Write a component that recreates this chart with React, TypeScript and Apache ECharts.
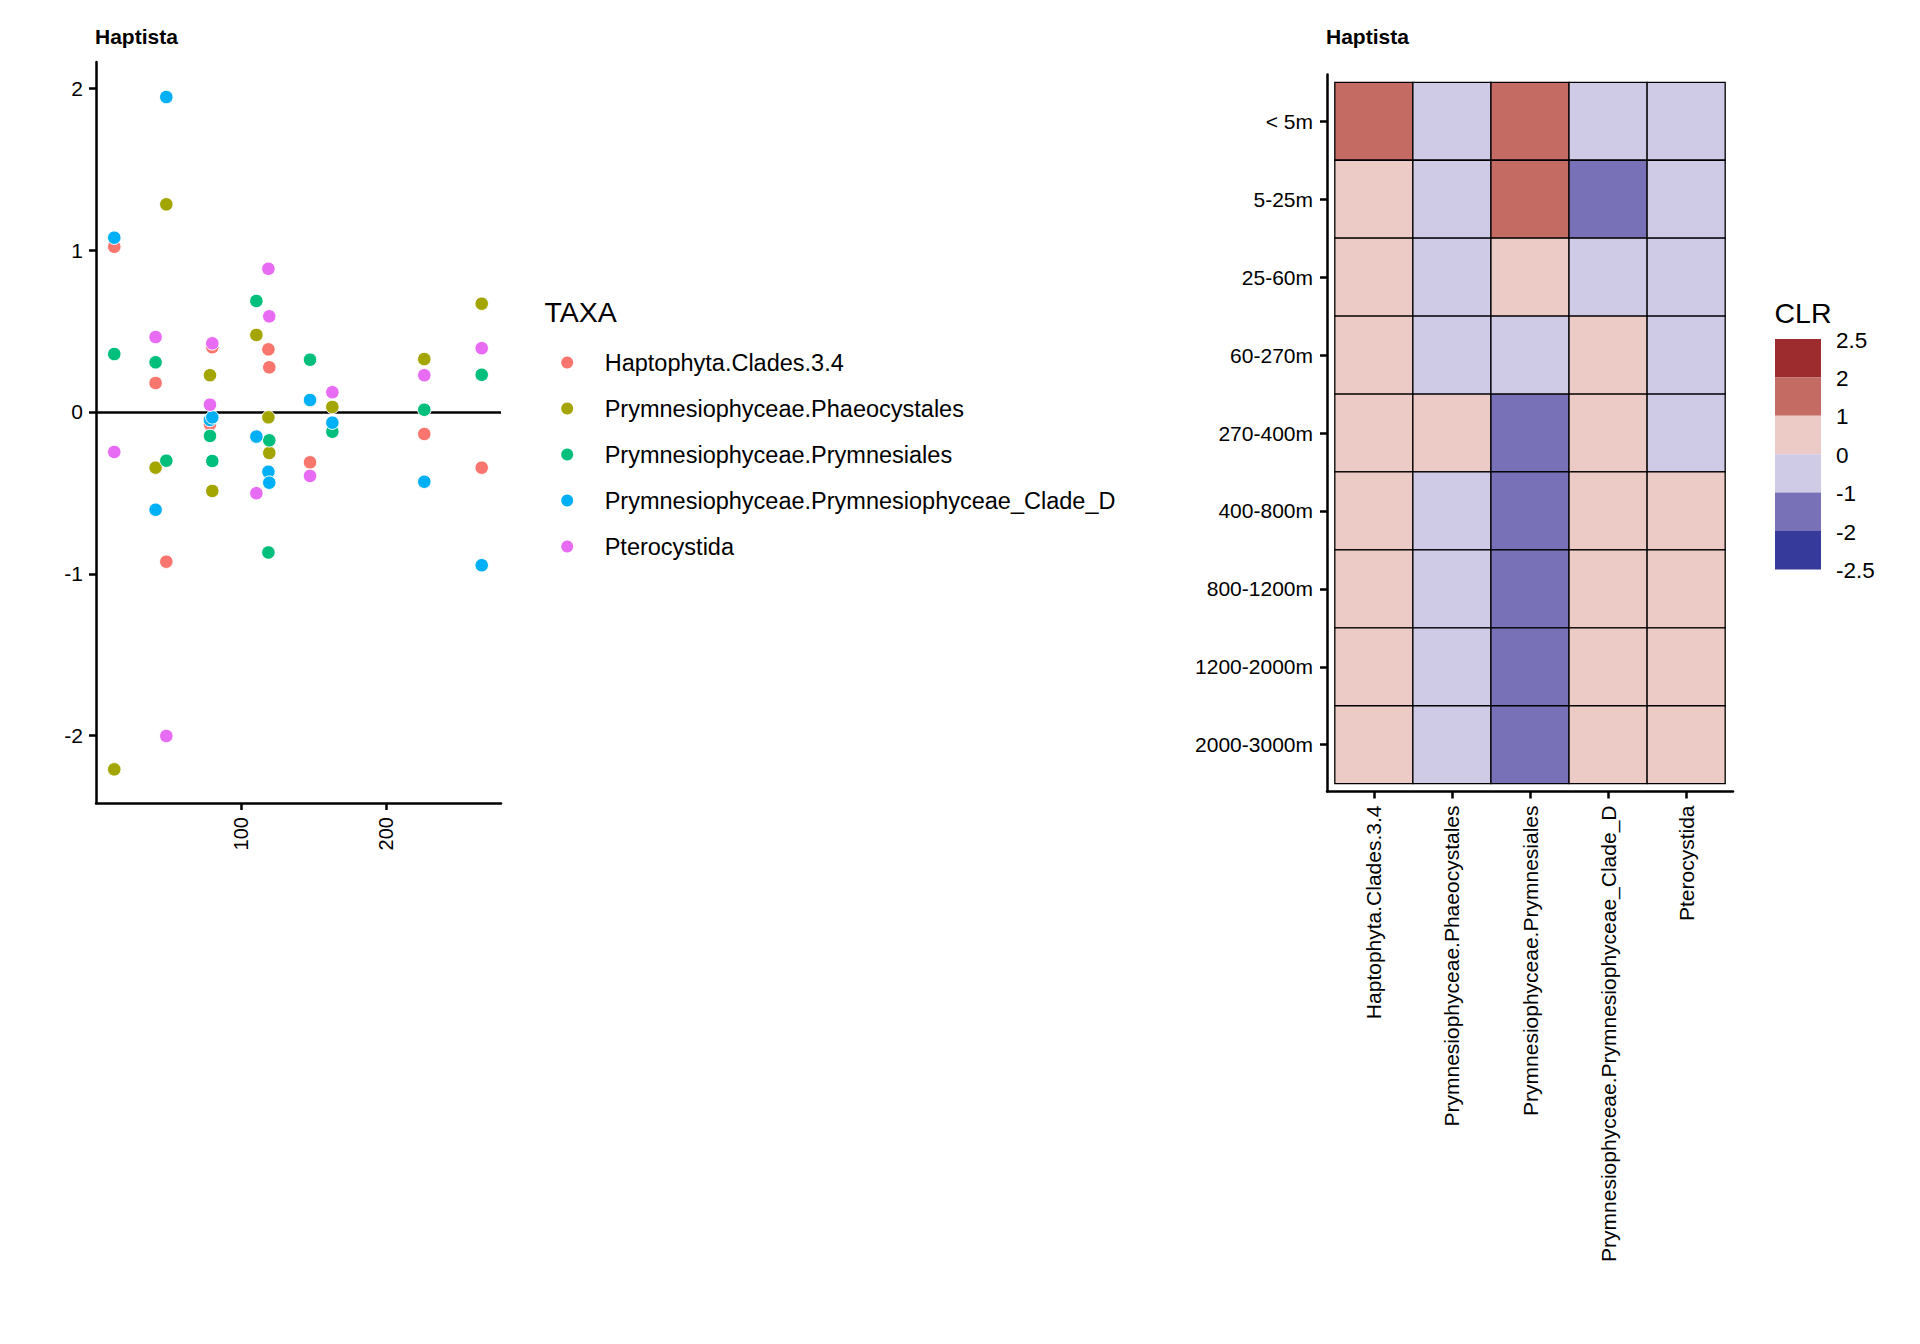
import React, { useEffect, useRef } from 'react';
import * as echarts from 'echarts';

const FONT = "'Liberation Sans', Arial, Helvetica, sans-serif";

// ---- Scatter panel data ----
const TAXA = [
  'Haptophyta.Clades.3.4',
  'Prymnesiophyceae.Phaeocystales',
  'Prymnesiophyceae.Prymnesiales',
  'Prymnesiophyceae.Prymnesiophyceae_Clade_D',
  'Pterocystida',
];
const TAXA_COLORS = ['#F8766D', '#A3A500', '#00BF7D', '#00B0F6', '#E76BF3'];

const SAMPLE_X = [12.6, 41.1, 48.5, 78.6, 80.2, 110.6, 118.9, 119.5, 147.6, 163.0, 226.4, 266.0];
const CLR_HAPTOPHYTA = [1.021, 0.179, -0.925, -0.076, 0.4, -0.15, 0.387, 0.276, -0.311, -0.12, -0.136, -0.344];
const CLR_PHAEOCYSTALES = [-2.208, -0.344, 1.283, 0.227, -0.488, 0.476, -0.033, -0.253, 0.07, 0.031, 0.327, 0.669];
const CLR_PRYMNESIALES = [0.358, 0.307, -0.301, -0.148, -0.303, 0.686, -0.868, -0.175, 0.323, -0.122, 0.014, 0.23];
const CLR_CLADE_D = [1.077, -0.604, 1.946, -0.049, -0.033, -0.152, -0.369, -0.437, 0.074, -0.066, -0.431, -0.947];
const CLR_PTEROCYSTIDA = [-0.247, 0.463, -2.002, 0.045, 0.424, -0.502, 0.885, 0.591, -0.395, 0.122, 0.227, 0.394];
const SCATTER_SERIES = [CLR_HAPTOPHYTA, CLR_PHAEOCYSTALES, CLR_PRYMNESIALES, CLR_CLADE_D, CLR_PTEROCYSTIDA];

const SCATTER_X_TICKS = [100, 200];
const SCATTER_Y_TICKS = [-2, -1, 0, 1, 2];

// ---- Heatmap panel data ----
const DEPTHS = ['< 5m', '5-25m', '25-60m', '60-270m', '270-400m', '400-800m', '800-1200m', '1200-2000m', '2000-3000m'];
const HM_HAPTOPHYTA = [1.5, 0.5, 0.5, 0.5, 0.5, 0.5, 0.5, 0.5, 0.5];
const HM_PHAEOCYSTALES = [-0.5, -0.5, -0.5, -0.5, 0.5, -0.5, -0.5, -0.5, -0.5];
const HM_PRYMNESIALES = [1.5, 1.5, 0.5, -0.5, -1.5, -1.5, -1.5, -1.5, -1.5];
const HM_CLADE_D = [-0.5, -1.5, -0.5, 0.5, 0.5, 0.5, 0.5, 0.5, 0.5];
const HM_PTEROCYSTIDA = [-0.5, -0.5, -0.5, -0.5, -0.5, 0.5, 0.5, 0.5, 0.5];
const HM_COLUMNS = [HM_HAPTOPHYTA, HM_PHAEOCYSTALES, HM_PRYMNESIALES, HM_CLADE_D, HM_PTEROCYSTIDA];

const CLR_BREAKS = [2.5, 2, 1, 0, -1, -2, -2.5];
const CLR_COLORS = ['#9C2C2D', '#C46B64', '#ECCBC6', '#CFCBE7', '#7871B8', '#353A9B'];

export default function App() {
  const ref = useRef<HTMLDivElement>(null);

  useEffect(() => {
    if (!ref.current) return;
    const chart = echarts.init(ref.current, undefined, { renderer: 'svg' });

    const heatData: number[][] = [];
    HM_COLUMNS.forEach((col, i) => col.forEach((v, j) => heatData.push([i, j, v])));

    const axisLineStyle = { color: '#000', width: 2.5 };
    const tickStyle = { color: '#000', width: 2.5 };
    const labelBase = { fontSize: 21, color: '#000', fontFamily: FONT };

    const legendTop = 339;
    const legendItemH = 38.4;

    const scatterSeries = TAXA.map((name, k) => ({
      type: 'scatter',
      name,
      xAxisIndex: 0,
      yAxisIndex: 0,
      z: 2,
      symbolSize: 13.5,
      data: SAMPLE_X.map((x, i) => [x, SCATTER_SERIES[k][i]]),
      itemStyle: { color: TAXA_COLORS[k], borderColor: '#fff', borderWidth: 1, opacity: 1 },
      ...(k === 0
        ? {
            markLine: {
              silent: true,
              z: 1,
              symbol: ['none', 'none'],
              label: { show: false },
              emphasis: { disabled: true },
              lineStyle: { color: '#000', width: 2.5, type: 'solid' },
              data: [{ yAxis: 0 }],
            },
          }
        : {}),
    }));

    const option: any = {
      animation: false,
      textStyle: { fontFamily: FONT },
      title: [
        { text: 'Haptista', left: 95, top: 26, padding: 0, textStyle: { fontSize: 21, fontWeight: 'bold', color: '#000', fontFamily: FONT } },
        { text: 'Haptista', left: 1326, top: 26, padding: 0, textStyle: { fontSize: 21, fontWeight: 'bold', color: '#000', fontFamily: FONT } },
        { text: 'TAXA', left: 544.5, top: 297, padding: 0, textStyle: { fontSize: 28.5, fontWeight: 'normal', color: '#000', fontFamily: FONT } },
        { text: 'CLR', left: 1774.5, top: 298, padding: 0, textStyle: { fontSize: 28.5, fontWeight: 'normal', color: '#000', fontFamily: FONT } },
      ],
      legend: {
        orient: 'vertical',
        left: 561.2,
        top: 350.5,
        padding: 0,
        itemGap: 22,
        itemWidth: 12,
        itemHeight: 12,
        icon: 'circle',
        data: TAXA,
        selectedMode: false,
        itemStyle: { borderWidth: 0 },
        textStyle: { fontSize: 23.5, color: '#000', fontFamily: FONT, padding: [0, 0, 0, 26.5] },
      },
      grid: [
        { left: 96, top: 62, width: 405, height: 741 },
        { left: 1327, top: 74.5, width: 406, height: 717 },
      ],
      xAxis: [
        {
          type: 'value',
          gridIndex: 0,
          min: 0,
          max: 279.3,
          axisLine: { show: true, onZero: false, lineStyle: axisLineStyle },
          axisTick: { show: true, customValues: SCATTER_X_TICKS, length: 7, lineStyle: tickStyle },
          axisLabel: { customValues: SCATTER_X_TICKS, rotate: 90, margin: 14, ...labelBase, fontSize: 20 },
          splitLine: { show: false },
        },
        {
          type: 'value',
          gridIndex: 1,
          min: -0.6,
          max: 4.6,
          axisLine: { show: true, onZero: false, lineStyle: axisLineStyle },
          axisTick: { show: true, customValues: [0, 1, 2, 3, 4], length: 7, lineStyle: tickStyle },
          axisLabel: {
            customValues: [0, 1, 2, 3, 4],
            rotate: 90,
            margin: 14,
            ...labelBase,
            formatter: (v: number) => TAXA[Math.round(v)] ?? '',
          },
          splitLine: { show: false },
        },
      ],
      yAxis: [
        {
          type: 'value',
          gridIndex: 0,
          min: -2.416,
          max: 2.1625,
          axisLine: { show: true, onZero: false, lineStyle: axisLineStyle },
          axisTick: { show: true, customValues: SCATTER_Y_TICKS, length: 7, lineStyle: tickStyle },
          axisLabel: { customValues: SCATTER_Y_TICKS, margin: 13, ...labelBase },
          splitLine: { show: false },
        },
        {
          type: 'value',
          gridIndex: 1,
          min: -0.6,
          max: 8.6,
          inverse: true,
          axisLine: { show: true, onZero: false, lineStyle: axisLineStyle },
          axisTick: { show: true, customValues: [0, 1, 2, 3, 4, 5, 6, 7, 8], length: 7, lineStyle: tickStyle },
          axisLabel: {
            customValues: [0, 1, 2, 3, 4, 5, 6, 7, 8],
            margin: 14,
            ...labelBase,
            formatter: (v: number) => DEPTHS[Math.round(v)] ?? '',
          },
          splitLine: { show: false },
        },
      ],
      visualMap: {
        type: 'piecewise',
        seriesIndex: 5,
        dimension: 2,
        orient: 'vertical',
        left: 1775,
        top: legendTop,
        padding: 0,
        itemWidth: 46,
        itemHeight: legendItemH,
        itemGap: 0,
        itemSymbol: 'rect',
        showLabel: false,
        selectedMode: false,
        hoverLink: false,
        pieces: CLR_COLORS.map((c, i) => ({ min: CLR_BREAKS[i + 1], max: CLR_BREAKS[i], color: c })),
      },
      graphic: CLR_BREAKS.map((b, i) => ({
        type: 'text',
        x: 1836,
        y: legendTop + i * legendItemH + 1,
        silent: true,
        style: { text: String(b), fontSize: 22.5, fill: '#000', fontFamily: FONT, verticalAlign: 'middle', align: 'left' },
      })),
      series: [
        ...scatterSeries,
        {
          type: 'custom',
          name: 'CLR',
          xAxisIndex: 1,
          yAxisIndex: 1,
          dimensions: ['taxon', 'depth', 'clr'],
          encode: { x: 0, y: 1 },
          data: heatData,
          renderItem: (params: any, api: any) => {
            const i = api.value(0);
            const j = api.value(1);
            const p0 = api.coord([i - 0.5, j - 0.5]);
            const p1 = api.coord([i + 0.5, j + 0.5]);
            return {
              type: 'rect',
              shape: {
                x: Math.min(p0[0], p1[0]),
                y: Math.min(p0[1], p1[1]),
                width: Math.abs(p1[0] - p0[0]),
                height: Math.abs(p1[1] - p0[1]),
              },
              style: { fill: api.visual('color'), stroke: '#000', lineWidth: 1.3 },
            };
          },
        },
      ],
    };

    chart.setOption(option);
    return () => chart.dispose();
  }, []);

  return <div ref={ref} style={{ position: 'absolute', left: 0, top: 0, width: 1920, height: 1344 }} />;
}
